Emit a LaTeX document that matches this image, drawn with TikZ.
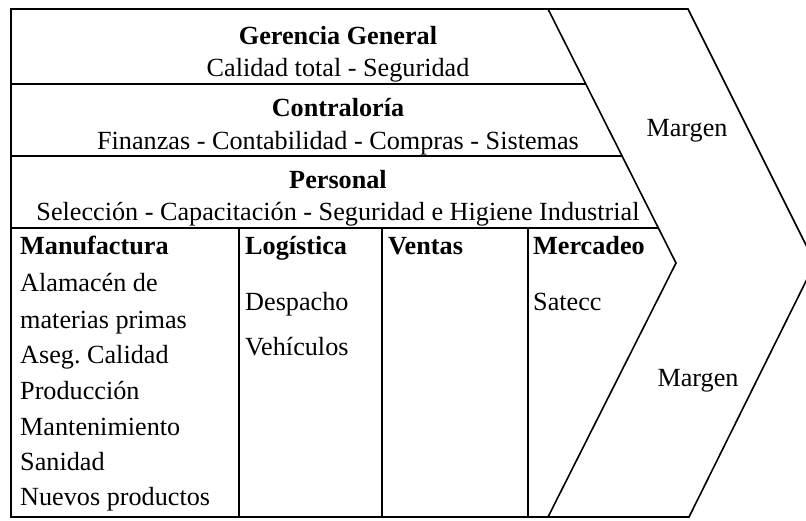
\documentclass[tikz,border=0pt]{standalone}
\usepackage{fontspec}
\setmainfont{Liberation Serif}
\usepackage{tikz}

\newcommand{\cellfont}{\fontsize{26.2}{30}\selectfont}

\tikzset{
	cell/.style={inner sep=0pt, text height=17pt, text depth=0pt},
	head/.style={font=\cellfont\bfseries},
	item/.style={anchor=west},
	rule/.style={line width=1.6pt}
}

\begin{document}
\begin{tikzpicture}[x=1pt, y=-1pt, font=\cellfont, every node/.style={cell}]
	\useasboundingbox (0,0) rectangle (806,520);

	% Draw frame
	%Outer box with inner chevron
	\draw[rule, line join=miter] (548,9) -- (11,9) -- (11,517) -- (548,517) -- (676,263) -- cycle;
	%Outer chevron
	\draw[rule] (548,9) -- (688,9) -- (815,263) -- (689,517) -- (548,517);

	% Horizontal bands
	\draw[rule] (11,84) -- (585.5,84);
	\draw[rule] (11,156) -- (621.5,156);
	\draw[rule] (11,228) -- (657.5,228);

	% Column dividers
	\draw[rule] (239,228) -- (239,517);
	\draw[rule] (382,228) -- (382,517);
	\draw[rule] (528,228) -- (528,517);

	%Support activities
	\node[head] (gg) at (338,36) {Gerencia General};
	\node (ggt) at (338,68) {Calidad total - Seguridad};
	\node[head] (con) at (338,108) {Contralor\'ia};
	\node (cont) at (338,141) {Finanzas - Contabilidad - Compras - Sistemas};
	\node[head] (per) at (338,180) {Personal};
	\node (pert) at (338,212) {Selecci\'on - Capacitaci\'on - Seguridad e Higiene Industrial};

	%Primary activities
	\node[item, head] (man) at (20,246) {Manufactura};
	\node[item] (m1) at (20,283) {Alamac\'en de};
	\node[item] (m2) at (20,320) {materias primas};
	\node[item] (m3) at (20,355) {Aseg.\ Calidad};
	\node[item] (m4) at (20,391) {Producci\'on};
	\node[item] (m5) at (20,427) {Mantenimiento};
	\node[item] (m6) at (20,462) {Sanidad};
	\node[item] (m7) at (20,497) {Nuevos productos};

	\node[item, head] (log) at (245,246) {Log\'istica};
	\node[item] (l1) at (245,302) {Despacho};
	\node[item] (l2) at (245,347) {Veh\'iculos};

	\node[item, head] (ven) at (388,246) {Ventas};

	\node[item, head] (mer) at (533,246) {Mercadeo};
	\node[item] (s1) at (533,302) {Satecc};

	%Margin
	\node (mg1) at (687,128) {Margen};
	\node (mg2) at (698,378) {Margen};

\end{tikzpicture}
\end{document}
